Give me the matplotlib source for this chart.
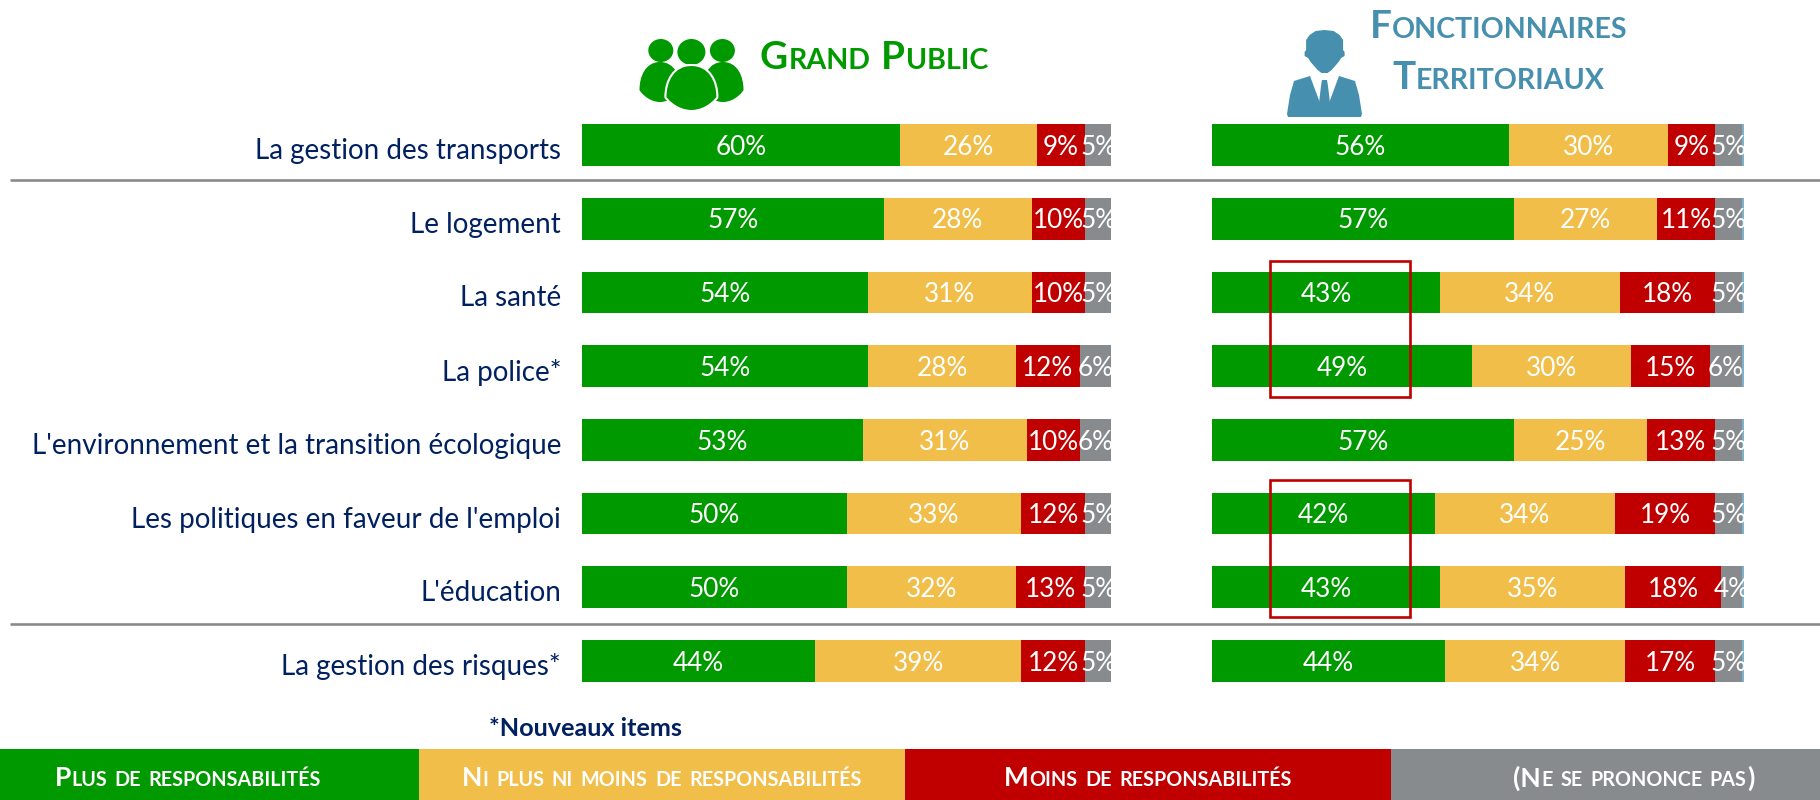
import matplotlib

matplotlib.use("Agg")
import matplotlib.pyplot as plt
from matplotlib.patches import Ellipse, PathPatch, Rectangle
from matplotlib.path import Path

W, H = 1820, 800
GREEN, YELLOW, RED, GREY, BLUE = "#009900", "#F2BE4A", "#C00000", "#888B8D", "#7FB0CC"
NAVY, TITLE_BLUE = "#002060", "#468FAF"
FONT = "Lato"

categories = ["La gestion des transports", "Le logement", "La santé", "La police*",
              "L'environnement et la transition écologique",
              "Les politiques en faveur de l'emploi", "L'éducation",
              "La gestion des risques*"]

# grand public
gp_plus = [60, 57, 54, 54, 53, 50, 50, 44]
gp_ni = [26, 28, 31, 28, 31, 33, 32, 39]
gp_moins = [9, 10, 10, 12, 10, 12, 13, 12]
gp_nsp = [5, 5, 5, 6, 6, 5, 5, 5]

# fonctionnaires territoriaux
ft_plus = [56, 57, 43, 49, 57, 42, 43, 44]
ft_ni = [30, 27, 34, 30, 25, 34, 35, 34]
ft_moins = [9, 11, 18, 15, 13, 19, 18, 17]
ft_nsp = [5, 5, 5, 6, 5, 5, 4, 5]
ft_reste = [0.4] * 8  # petit liseré bleu en bout de barre, sans etiquette

legend_labels = ["Plus de responsabilités", "Ni plus ni moins de responsabilités",
                 "Moins de responsabilités", "(Ne se prononce pas)"]
legend_colors = [GREEN, YELLOW, RED, GREY]
legend_edges = [0, 419, 905, 1391, 1820]
legend_centers = [188, 662, 1148, 1634]

fig = plt.figure(figsize=(W / 100, H / 100), dpi=100, facecolor="white")


def px_axes(x0, y0, x1, y1, **kw):
    return fig.add_axes([x0 / W, 1 - y1 / H, (x1 - x0) / W, (y1 - y0) / H], **kw)


def stacked(ax, series, colors, xmax):
    left = [0] * len(categories)
    for vals, col in zip(series, colors):
        ax.barh(range(len(categories)), vals, left=left, height=0.565, color=col, lw=0)
        if col != BLUE:
            for i, v in enumerate(vals):
                ax.text(left[i] + v / 2, i + 0.03, f"{v}%", color="white", ha="center",
                        va="center", fontsize=18.8, family=FONT, clip_on=True)
        left = [a + b for a, b in zip(left, vals)]
    ax.set_xlim(0, xmax)
    ax.set_ylim(7.5, -0.5)
    ax.axis("off")


ax_left = px_axes(582, 108.15, 1111.4, 697.85)
stacked(ax_left, [gp_plus, gp_ni, gp_moins, gp_nsp], [GREEN, YELLOW, RED, GREY], 100)
ax_right = px_axes(1212, 108.15, 1744, 697.85)
stacked(ax_right, [ft_plus, ft_ni, ft_moins, ft_nsp, ft_reste],
        [GREEN, YELLOW, RED, GREY, BLUE], 100.4)

for i, cat in enumerate(categories):
    ax_left.annotate(cat, (0, i), xytext=(-21, -6), textcoords="offset pixels", ha="right",
                     va="center", color=NAVY, fontsize=20, family=FONT,
                     annotation_clip=False)

# calque en pixels pour le reste (traits, legende, pictos)
ov = px_axes(0, 0, W, H, zorder=5)
ov.patch.set_alpha(0)
ov.set_xlim(0, W)
ov.set_ylim(H, 0)
ov.axis("off")

for y in (179.5, 624.3):
    ov.plot([10, W], [y, y], color=GREY, lw=1.9, solid_capstyle="butt")
for y0, y1 in ((260.7, 397.3), (479.7, 616.7)):
    ov.add_patch(Rectangle((1269.6, y0), 140, y1 - y0, fill=False, ec=RED, lw=1.9))
for i, col in enumerate(legend_colors):
    ov.add_patch(Rectangle((legend_edges[i], 749), legend_edges[i + 1] - legend_edges[i], 51,
                           color=col, lw=0))

renderer = fig.canvas.get_renderer()


def small_caps(xc, base, text, big, small, color):
    # matplotlib n'a pas de petites capitales: on pose chaque morceau a la main
    pieces = []
    for word in text.split(" "):
        j = 0
        while j < len(word):
            k = j + 1
            up = not word[j].islower()
            while k < len(word) and (not word[k].islower()) == up:
                k += 1
            pieces.append((word[j:k].upper(), big if up else small))
            j = k
        pieces.append((None, small * 0.36 * 100 / 72))
    pieces.pop()
    drawn, x = [], 0
    for s, size in pieces:
        if s is None:
            x += size
            continue
        t = ov.text(0, base, s, fontsize=size, color=color, family=FONT, weight="bold",
                    ha="left", va="baseline")
        w = t.get_window_extent(renderer).width
        drawn.append((t, x))
        x += w + 0.5
    for t, off in drawn:
        t.set_x(xc - x / 2 + off)


for lab, xc in zip(legend_labels, legend_centers):
    small_caps(xc, 786.5, lab, 19, 14.2, "white")

small_caps(874, 69, "Grand Public", 27.8, 20.6, GREEN)
small_caps(1499, 37.7, "Fonctionnaires", 27.8, 20.6, TITLE_BLUE)
small_caps(1499, 89, "Territoriaux", 27.8, 20.6, TITLE_BLUE)
ov.text(585, 728, "*Nouveaux items", fontsize=18.2, color=NAVY, family=FONT, weight="bold",
        ha="center", va="center")


def body(cx, top, w, h, **kw):
    v = [(cx, top), (cx + .35 * w, top), (cx + .5 * w, top + .35 * h), (cx + .5 * w, top + .7 * h),
         (cx + .5 * w, top + .72 * h), (cx + .3 * w, top + h), (cx, top + h),
         (cx - .3 * w, top + h), (cx - .5 * w, top + .72 * h), (cx - .5 * w, top + .7 * h),
         (cx - .5 * w, top + .35 * h), (cx - .35 * w, top), (cx, top)]
    codes = [Path.MOVETO] + [Path.CURVE4] * 12
    ov.add_patch(PathPatch(Path(v, codes), **kw))


# picto grand public
ov.add_patch(Ellipse((660.8, 50.5), 25, 23, color=GREEN, lw=0))
ov.add_patch(Ellipse((722.4, 50.5), 25, 23, color=GREEN, lw=0))
ov.add_patch(Ellipse((691.4, 52), 28, 26, color=GREEN, lw=0))
body(660, 62, 41, 40, fc=GREEN, lw=0)
body(723, 62, 41, 40, fc=GREEN, lw=0)
body(691.4, 65, 52, 46, fc=GREEN, ec="white", lw=1.5)

# picto fonctionnaire
cx = 1324.6
demi_tete = [(30, 0), (31, 9), (35, 15), (40, 18.5), (50, 18.5), (52, 20), (56, 20), (58, 16.5),
             (62, 14), (66, 10.5), (70, 7), (73, 3)]
tete = [(cx + d, y) for y, d in demi_tete] + [(cx - d, y) for y, d in reversed(demi_tete)]
ov.add_patch(plt.Polygon(tete, closed=True, color=TITLE_BLUE, lw=0))
costume = [(1310, 76), (1294, 81), (1290, 95), (1287, 114), (1288, 117), (1361, 117),
           (1362, 114), (1359, 95), (1355, 81), (1339, 76), (1329, 103), (1320, 103)]
ov.add_patch(plt.Polygon(costume, closed=True, color=TITLE_BLUE, lw=0))
cravate = [(1322, 80), (1327, 80), (1328, 86), (1330, 103), (1325, 110), (1319, 103),
           (1321, 86)]
ov.add_patch(plt.Polygon(cravate, closed=True, color=TITLE_BLUE, lw=0))

fig.savefig("out.png", dpi=100, facecolor="white")
